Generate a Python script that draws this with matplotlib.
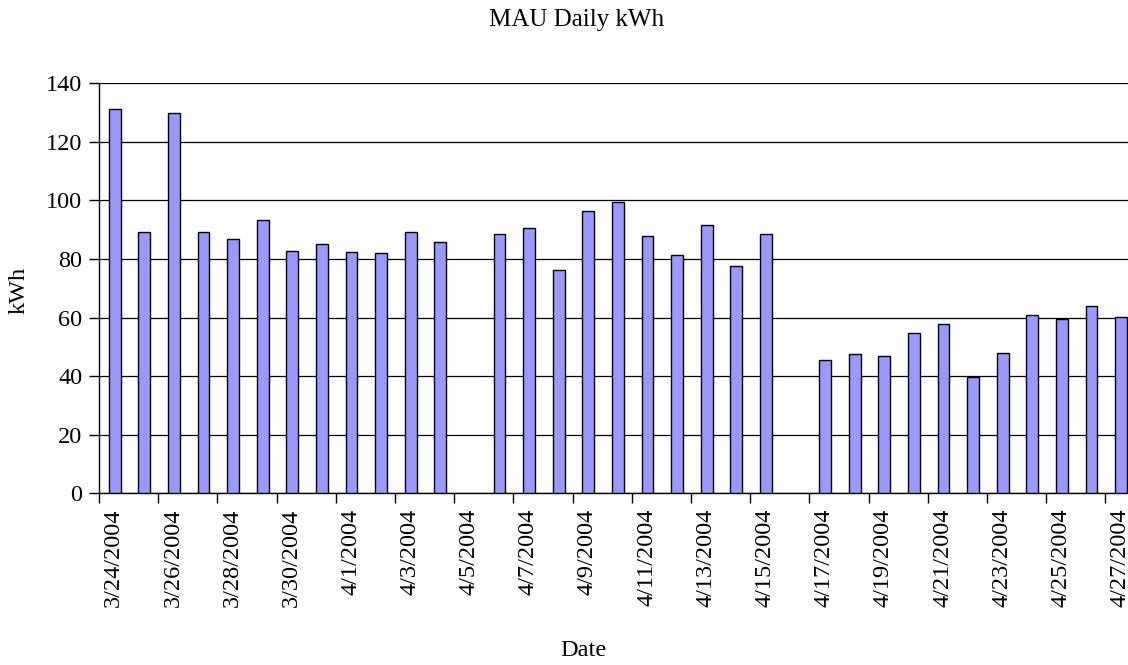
import numpy as np
import matplotlib
matplotlib.use("Agg")
import matplotlib.pyplot as plt

dates = ["3/24/2004", "3/25/2004", "3/26/2004", "3/27/2004", "3/28/2004", "3/29/2004",
         "3/30/2004", "3/31/2004", "4/1/2004", "4/2/2004", "4/3/2004", "4/4/2004",
         "4/5/2004", "4/6/2004", "4/7/2004", "4/8/2004", "4/9/2004", "4/10/2004",
         "4/11/2004", "4/12/2004", "4/13/2004", "4/14/2004", "4/15/2004", "4/16/2004",
         "4/17/2004", "4/18/2004", "4/19/2004", "4/20/2004", "4/21/2004", "4/22/2004",
         "4/23/2004", "4/24/2004", "4/25/2004", "4/26/2004", "4/27/2004"]
kwh = [131.3, 89.3, 129.8, 89.1, 86.7, 93.4,
       82.8, 85.0, 82.3, 81.9, 89.2, 85.9,
       None, 88.6, 90.7, 76.1, 96.4, 99.3,
       87.9, 81.5, 91.6, 77.6, 88.4, None,
       45.5, 47.7, 47.0, 54.8, 57.8, 39.7,
       48.0, 61.0, 59.6, 63.8, 60.2]
yticks = [0, 20, 40, 60, 80, 100, 120, 140]

plt.rcParams['font.family'] = ['Liberation Serif', 'DejaVu Serif']

W, H = 1128, 665
fig = plt.figure(figsize=(W / 100, H / 100), dpi=100)
left_px, right_px, top_px, bot_px = 99, 1135, 83.3, 493.3
ax = fig.add_axes([left_px / W, 1 - bot_px / H, (right_px - left_px) / W, (bot_px - top_px) / H])

x = np.arange(len(dates))
vals = np.array([np.nan if v is None else v for v in kwh], dtype=float)
ax.bar(x + 0.03, vals, width=0.4, color='#9999FF', edgecolor='black', linewidth=1.0, zorder=3)

ax.set_xlim(-0.5, len(dates) - 0.5)
ax.set_ylim(0, 140)
ax.set_yticks(yticks)
ax.set_yticklabels([str(t) for t in yticks], fontsize=17.5)
ax.yaxis.grid(True, color='black', linewidth=0.9, zorder=0)
ax.tick_params(axis='y', direction='out', length=7, width=1, pad=5)

ax.set_xticks(x[::2])
ax.set_xticklabels(dates[::2], rotation=90, fontsize=17.5)
ax.tick_params(axis='x', which='major', length=0, pad=11)
ax.set_xticks(np.arange(-0.5, len(dates) - 0.5, 2), minor=True)
ax.tick_params(axis='x', which='minor', direction='out', length=7, width=1)

for s in ['top', 'right']:
    ax.spines[s].set_visible(False)
for s in ['left', 'bottom']:
    ax.spines[s].set_linewidth(1.0)
    ax.spines[s].set_color('black')

fig.text(577 / W, 1 - 20 / H, "MAU Daily kWh", ha='center', va='center', fontsize=18)
fig.text(19 / W, 1 - 290 / H, "kWh", ha='center', va='center', rotation=90, fontsize=17.5)
fig.text(583 / W, 1 - 650 / H, "Date", ha='center', va='center', fontsize=17.5)

fig.savefig("out.png", dpi=100)
